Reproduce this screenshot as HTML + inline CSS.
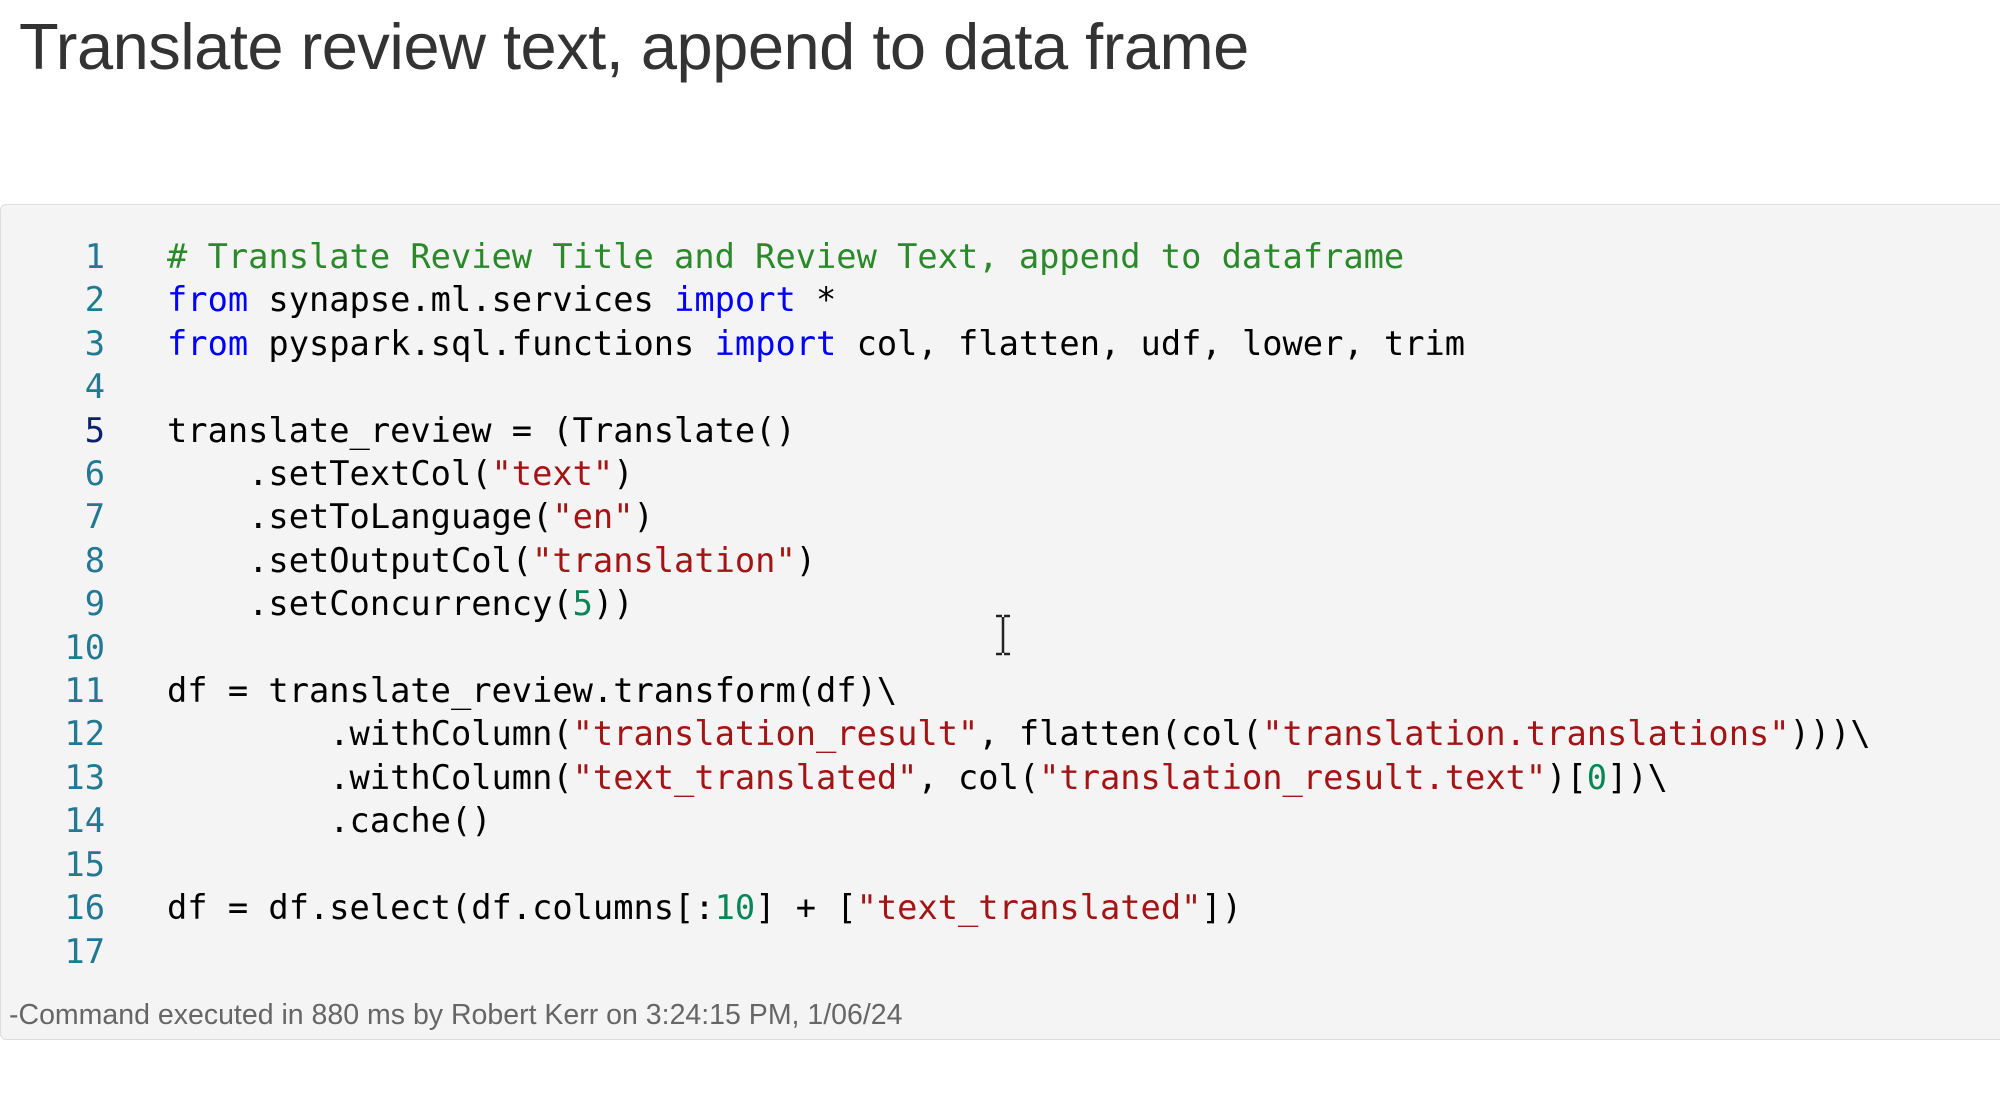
<!DOCTYPE html>
<html><head><meta charset="utf-8"><style>
html,body{margin:0;padding:0;background:#fff;width:2000px;height:1108px;overflow:hidden;position:relative}
h1{position:absolute;left:19px;top:9px;margin:0;font:400 65px "Liberation Sans",sans-serif;color:#333;letter-spacing:-0.5px}
.block{position:absolute;left:0;top:204px;width:2010px;height:836px;background:#f4f4f4;border:1px solid #ddd;border-radius:6px;box-sizing:border-box}
.ln{position:absolute;left:0;width:105px;text-align:right;font:33.7px "DejaVu Sans Mono",monospace;color:#237893;line-height:43.4px}
.code{position:absolute;left:167px;font:33.7px "DejaVu Sans Mono",monospace;color:#000;line-height:43.4px;white-space:pre}
.c{color:#2a8a2a}.k{color:#0000ff}.s{color:#a31515}.n{color:#098658}
.foot{position:absolute;left:9px;top:999px;font:28.5px "Liberation Sans",sans-serif;color:#666}
</style></head><body>
<h1>Translate review text, append to data frame</h1>
<div class="block"></div>
<div class="ln" style="top:235px">1<br>2<br>3<br>4<br><span style="color:#0b216f">5</span><br>6<br>7<br>8<br>9<br>10<br>11<br>12<br>13<br>14<br>15<br>16<br>17</div>
<div class="code" style="top:235px"><span class="c"># Translate Review Title and Review Text, append to dataframe</span>
<span class="k">from</span> synapse.ml.services <span class="k">import</span> *
<span class="k">from</span> pyspark.sql.functions <span class="k">import</span> col, flatten, udf, lower, trim

translate_review = (Translate()
    .setTextCol(<span class="s">"text"</span>)
    .setToLanguage(<span class="s">"en"</span>)
    .setOutputCol(<span class="s">"translation"</span>)
    .setConcurrency(<span class="n">5</span>))

df = translate_review.transform(df)\
        .withColumn(<span class="s">"translation_result"</span>, flatten(col(<span class="s">"translation.translations"</span>)))\
        .withColumn(<span class="s">"text_translated"</span>, col(<span class="s">"translation_result.text"</span>)[<span class="n">0</span>])\
        .cache()

df = df.select(df.columns[:<span class="n">10</span>] + [<span class="s">"text_translated"</span>])
</div>
<svg style="position:absolute;left:992px;top:614px" width="22" height="42"><path d="M4 2h6M12 2h6M11 3v36M4 40h6M12 40h6" stroke="#222" stroke-width="2.5" fill="none"/></svg>
<div class="foot">-Command executed in 880 ms by Robert Kerr on 3:24:15 PM, 1/06/24</div>
</body></html>
